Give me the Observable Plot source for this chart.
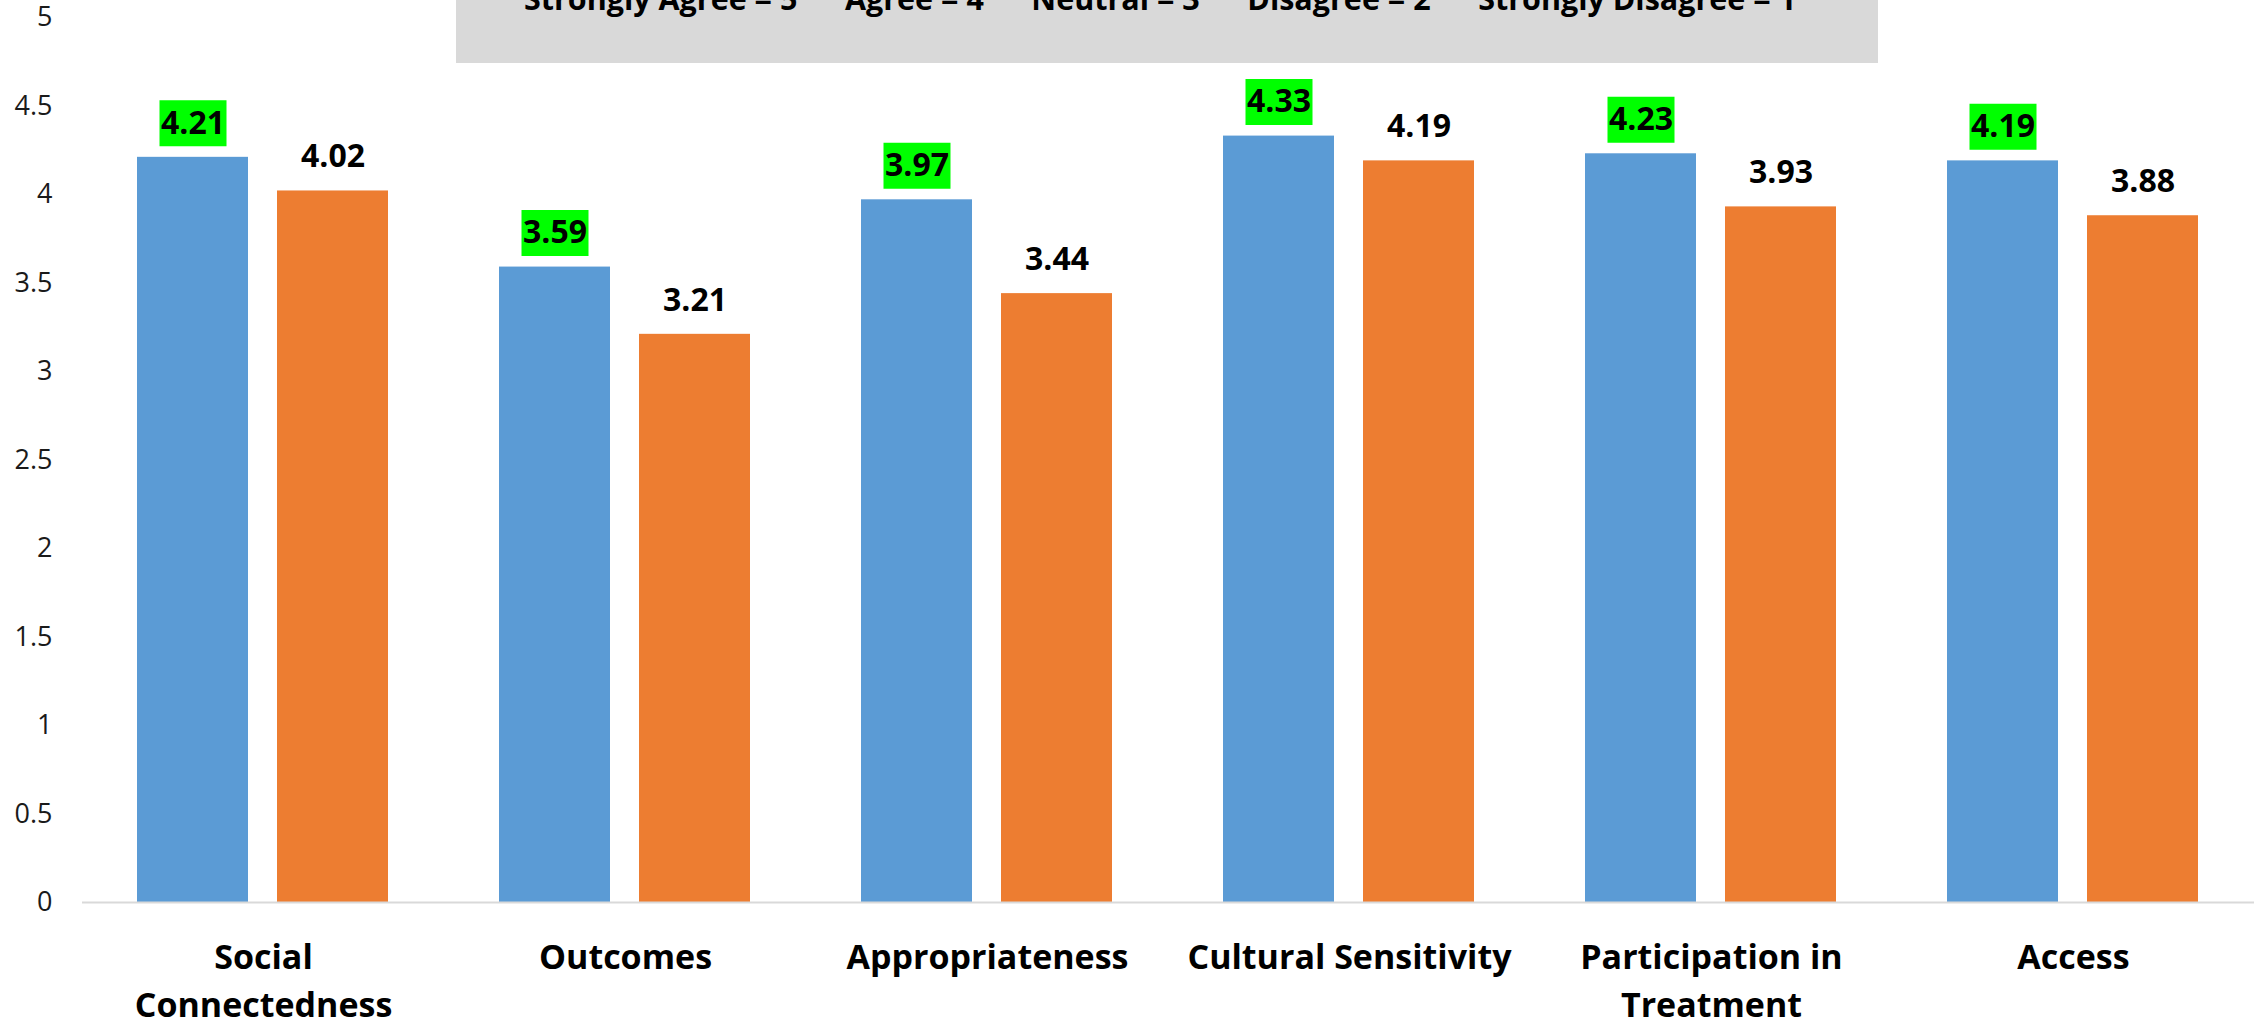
<!DOCTYPE html>
<html>
<head>
<meta charset="utf-8">
<script src="https://cdn.jsdelivr.net/npm/d3@7"></script>
<script src="https://cdn.jsdelivr.net/npm/@observablehq/plot@0.6"></script>
<style>
  html, body { margin: 0; padding: 0; background: #ffffff; }
  #chart { width: 2259px; height: 1027px; }
</style>
</head>
<body>
<div id="chart"></div>
<script>
// ---- data ----
const categories = ["Social Connectedness", "Outcomes", "Appropriateness", "Cultural Sensitivity", "Participation in Treatment", "Access"];
const categoryLabels = ["Social\nConnectedness", "Outcomes", "Appropriateness", "Cultural Sensitivity", "Participation in\nTreatment", "Access"];
const seriesNames = ["Series 1", "Series 2"];
const series1Values = [4.21, 3.59, 3.97, 4.33, 4.23, 4.19];
const series2Values = [4.02, 3.21, 3.44, 4.19, 3.93, 3.88];
const yTicks = [0, 0.5, 1, 1.5, 2, 2.5, 3, 3.5, 4, 4.5, 5];
const scaleNote = "Strongly Agree = 5      Agree = 4      Neutral = 3      Disagree = 2      Strongly Disagree = 1";

// ---- table for Plot ----
const rows = [];
categories.forEach((c, i) => {
  rows.push({category: c, series: seriesNames[0], value: series1Values[i]});
  rows.push({category: c, series: seriesNames[1], value: series2Values[i]});
});
const highlighted = rows.filter(d => d.series === seriesNames[0]);

// rectangle symbol used as label background
const labelBox = { draw(context) { context.rect(-33.5, -23, 67, 46); } };

const FONT = "'Open Sans', 'DejaVu Sans', sans-serif";

const chart = Plot.plot({
  width: 2259,
  height: 1027,
  marginLeft: 82,
  marginRight: 5,
  marginTop: 17,
  marginBottom: 125,
  style: { fontFamily: FONT, background: "#ffffff", overflow: "visible" },
  fx: { domain: categories, padding: 0, label: null },
  x: { domain: seriesNames, paddingInner: 0.207, paddingOuter: 0.396, axis: null },
  y: { domain: [0, 5], axis: null },
  color: { domain: seriesNames, range: ["#5B9BD5", "#ED7D31"] },
  marks: [
    Plot.axisY({
      ticks: yTicks, tickFormat: d => String(d), tickSize: 0, tickPadding: 30,
      fontSize: 27, color: "#1a1a1a", label: null
    }),
    Plot.axisFx({
      anchor: "bottom", tickSize: 0, tickPadding: 32, fontSize: 34, fontWeight: "bold",
      lineHeight: 1.42, color: "#000000", label: null,
      tickFormat: c => categoryLabels[categories.indexOf(c)]
    }),
    Plot.barY(rows, { fx: "category", x: "series", y: "value", fill: "series" }),
    Plot.ruleY([0], { stroke: "#d9d9d9", strokeWidth: 2 }),
    Plot.dot(highlighted, {
      fx: "category", x: "series", y: "value", dy: -34,
      symbol: labelBox, fill: "#00FF00", stroke: null
    }),
    Plot.text(rows, {
      fx: "category", x: "series", y: "value", dy: -34,
      text: d => d.value.toFixed(2), fontSize: 32, fontWeight: "bold", fill: "#000000"
    })
  ]
});

// scale-legend banner at the top (partly cut off, as in the original)
const svg = d3.select(chart);
const banner = svg.append("g").attr("class", "scale-note");
banner.append("rect")
  .attr("x", 456).attr("y", 0).attr("width", 1422).attr("height", 63)
  .attr("fill", "#D9D9D9");
banner.append("text")
  .attr("x", 1160).attr("y", 10)
  .attr("text-anchor", "middle")
  .attr("font-family", FONT)
  .attr("font-weight", "bold")
  .attr("font-size", 30.5)
  .attr("fill", "#000000")
  .style("white-space", "pre")
  .text(scaleNote);

document.getElementById("chart").appendChild(chart);
</script>
</body>
</html>
